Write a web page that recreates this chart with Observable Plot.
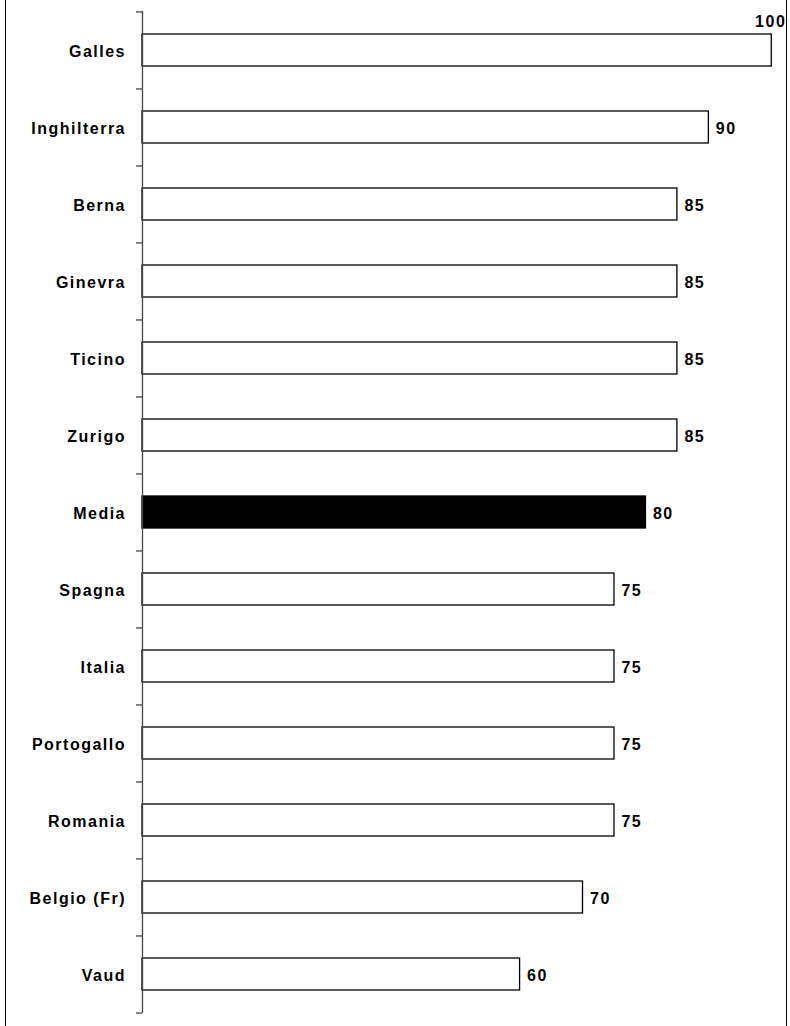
<!DOCTYPE html>
<html>
<head>
<meta charset="utf-8">
<script src="https://cdn.jsdelivr.net/npm/d3@7"></script>
<script src="https://cdn.jsdelivr.net/npm/@observablehq/plot@0.6"></script>
<style>
  html, body { margin: 0; padding: 0; background: #fff; }
  #chart { position: relative; width: 790px; height: 1026px; }
  #chart::before, #chart::after {
    content: ""; position: absolute; top: 0; bottom: 0; width: 0;
    border-left: 1.5px solid #000;
  }
  #chart::before { left: 5px; }
  #chart::after { left: 785.5px; }
  #chart svg { letter-spacing: 1.5px; }
</style>
</head>
<body>
<div id="chart"></div>
<script>
// Categories, top to bottom, and their scores
const categories = ["Galles", "Inghilterra", "Berna", "Ginevra", "Ticino", "Zurigo", "Media",
  "Spagna", "Italia", "Portogallo", "Romania", "Belgio (Fr)", "Vaud"];
const values = [100, 90, 85, 85, 85, 85, 80, 75, 75, 75, 75, 70, 60];
const highlight = "Media";

const data = categories.map((c, i) => ({category: c, value: values[i]}));
const maxValue = d3.max(values);

const W = 790, H = 1026;
const marginTop = 11, marginBottom = 13;
const step = (H - marginTop - marginBottom) / categories.length;

const font = {fontFamily: "Liberation Sans, Arial, sans-serif", fontSize: 16, fontWeight: "bold", fill: "#000"};

const chart = Plot.plot({
  width: W,
  height: H,
  marginLeft: 142,
  marginRight: 18.7,
  marginTop,
  marginBottom,
  x: {domain: [0, 100], axis: null},
  y: {domain: categories, axis: null, paddingInner: 0.585, paddingOuter: 0.2925},
  marks: [
    // bars
    Plot.barX(data, {
      y: "category", x: "value",
      fill: d => d.category === highlight ? "#000" : "#fff",
      stroke: "#000", strokeWidth: 1.3
    }),
    // category axis line
    Plot.ruleX([0], {stroke: "#444", strokeWidth: 1.3}),
    // tick marks between categories
    Plot.ruleY(categories, {y: d => d, x1: 0, x2: 0, insetLeft: -6, dy: -step / 2, stroke: "#444", strokeWidth: 1.3}),
    Plot.ruleY(categories.slice(-1), {y: d => d, x1: 0, x2: 0, insetLeft: -6, dy: step / 2, stroke: "#444", strokeWidth: 1.3}),
    // category labels
    Plot.text(data, {y: "category", x: 0, text: "category", textAnchor: "end", dx: -16.5, dy: 1, ...font}),
    // value labels
    Plot.text(data.filter(d => d.value < maxValue), {
      y: "category", x: "value", text: d => String(d.value), textAnchor: "start", dx: 7, dy: 1, ...font
    }),
    Plot.text(data.filter(d => d.value === maxValue), {
      y: "category", x: "value", text: d => String(d.value), textAnchor: "end", dx: 14.5, dy: -29, ...font
    })
  ]
});

document.getElementById("chart").appendChild(chart);
</script>
</body>
</html>
